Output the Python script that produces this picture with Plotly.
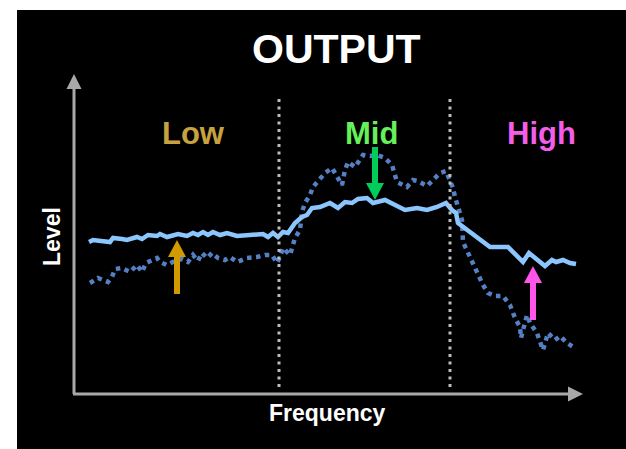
import plotly.graph_objects as go

# ---- data (frequency index, level) ----
solid_freq = [15, 19, 36, 39, 48, 53, 63, 68, 74, 83, 86, 93, 104, 113, 119, 124, 129, 134, 139, 146,
              153, 159, 163, 189, 194, 199, 204, 209, 214, 221, 228, 233, 238, 246, 256, 264, 271, 278,
              284, 293, 299, 311, 321, 331, 343, 353, 363, 372, 378, 382, 384, 416, 434, 449, 455, 471,
              478, 482, 489, 496, 502]
solid_level = [152, 154, 152, 156, 155, 154, 157, 155, 159, 158, 160, 157, 160, 158, 161, 159, 162, 159,
               162, 159, 161, 159, 158, 160, 157, 161, 157, 162, 161, 171, 177, 179, 186, 187, 191, 186,
               192, 191, 195, 196, 191, 194, 189, 184, 186, 184, 187, 191, 184, 181, 171, 147, 147, 132,
               141, 128, 134, 132, 134, 131, 130]

dotted_freq = [16, 24, 34, 38, 41, 48, 56, 63, 68, 72, 83, 86, 93, 101, 108, 114, 119, 124, 128, 133,
               138, 144, 151, 156, 163, 173, 183, 191, 198, 203, 206, 209, 216, 221, 226, 228, 231, 236,
               239, 246, 251, 258, 263, 268, 271, 274, 281, 284, 289, 296, 303, 311, 318, 323, 328, 333,
               339, 344, 353, 359, 366, 372, 376, 379, 381, 384, 388, 389, 396, 403, 409, 414, 421, 429,
               436, 441, 446, 447, 453, 456, 463, 469, 474, 481, 486, 493, 499]
dotted_level = [111, 116, 112, 117, 125, 126, 122, 129, 122, 131, 136, 132, 129, 133, 135, 132, 139, 133,
                141, 136, 141, 136, 134, 137, 132, 136, 137, 139, 139, 131, 137, 146, 139, 156, 164, 182,
                191, 199, 207, 216, 221, 226, 217, 209, 224, 232, 227, 231, 239, 238, 239, 236, 229, 212,
                209, 207, 214, 213, 208, 214, 221, 223, 214, 206, 197, 187, 174, 152, 137, 124, 109, 101,
                98, 98, 89, 76, 67, 56, 79, 71, 61, 44, 61, 54, 58, 51, 47]

band_edges = [205, 376]
band_labels = ["Low", "Mid", "High"]
band_label_freq = [119, 297, 467]
band_text_colors = ["#C9A240", "#66F05A", "#F25EE8"]
arrow_freq = [103, 301, 459]
arrow_from = [100, 247, 74]
arrow_to = [154, 194, 128]
arrow_colors = ["#D09A00", "#00CC5A", "#FF55E8"]

title_text = "OUTPUT"
x_title = "Frequency"
y_title = "Level"

# ---- figure ----
fig = go.Figure()

fig.add_trace(go.Scatter(x=dotted_freq, y=dotted_level, mode="lines",
                         line=dict(color="#5680C4", width=4.5, dash="4.5px,4.5px"),
                         hoverinfo="skip"))
fig.add_trace(go.Scatter(x=solid_freq, y=solid_level, mode="lines",
                         line=dict(color="#8CC6FF", width=4.5),
                         hoverinfo="skip"))

shapes = []
# black panel
shapes.append(dict(type="rect", xref="x", yref="y", x0=-57, x1=560, y0=-60, y1=384,
                   fillcolor="black", line=dict(width=0), layer="below"))
axis_col = "#A8A8A8"
# axis lines
shapes.append(dict(type="line", x0=0, x1=0, y0=0, y1=306, line=dict(color=axis_col, width=3)))
shapes.append(dict(type="line", x0=-1, x1=495, y0=0, y1=0, line=dict(color=axis_col, width=3)))
shapes.append(dict(type="path", path="M -7.5,305 L 7.5,305 L 0,320 Z",
                   fillcolor=axis_col, line=dict(width=0)))
shapes.append(dict(type="path", path="M 494,7.5 L 494,-7.5 L 509,0 Z",
                   fillcolor=axis_col, line=dict(width=0)))
# band separators
for xe in band_edges:
    shapes.append(dict(type="line", x0=xe, x1=xe, y0=7, y1=297,
                       line=dict(color="#BDBDBD", width=3, dash="3px,4.5px")))
# coloured arrows
for xf, y0, y1, c in zip(arrow_freq, arrow_from, arrow_to, arrow_colors):
    d = 1 if y1 > y0 else -1
    base = y1 - d * 17
    shapes.append(dict(type="line", x0=xf, x1=xf, y0=y0, y1=base, line=dict(color=c, width=6)))
    shapes.append(dict(type="path", path=f"M {xf-9},{base} L {xf+9},{base} L {xf},{y1} Z",
                       fillcolor=c, line=dict(width=0)))

annotations = [
    dict(x=262, y=345, text=title_text, showarrow=False,
         font=dict(family="Liberation Sans, Arial", size=41, color="white", weight="bold")),
    dict(x=253, y=-19, text=x_title, showarrow=False,
         font=dict(family="Liberation Sans, Arial", size=23, color="white", weight="bold")),
    dict(x=-22, y=157, text=y_title, showarrow=False, textangle=-90,
         font=dict(family="Liberation Sans, Arial", size=23, color="white", weight="bold")),
]
for t, xf, c in zip(band_labels, band_label_freq, band_text_colors):
    annotations.append(dict(x=xf, y=261, text=t, showarrow=False,
                            font=dict(family="Liberation Sans, Arial", size=31, color=c, weight="bold")))

fig.update_layout(
    width=626, height=449,
    margin=dict(l=0, r=0, t=0, b=0),
    paper_bgcolor="white", plot_bgcolor="white",
    showlegend=False,
    xaxis=dict(range=[-74, 552], visible=False, fixedrange=True),
    yaxis=dict(range=[-55, 394], visible=False, fixedrange=True),
    shapes=shapes, annotations=annotations,
)

fig.write_html("out.html", config={"displayModeBar": False},
               post_script="document.body.style.margin='0px';document.body.style.overflow='hidden';")
